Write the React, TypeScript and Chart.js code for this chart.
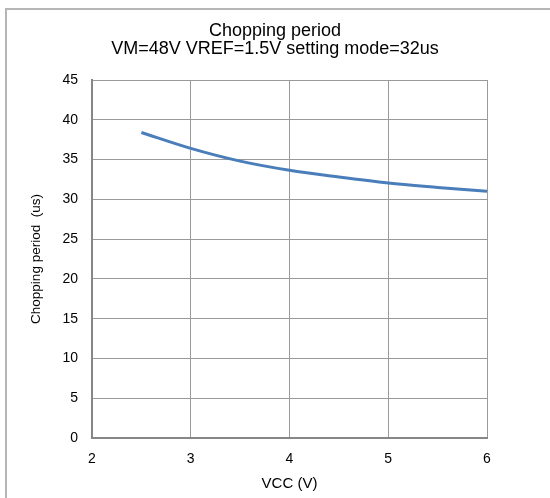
import React, { useEffect, useRef } from "react";
import { Chart, registerables } from "chart.js";

Chart.register(...registerables);

const titleLines = ["Chopping period", "VM=48V VREF=1.5V setting mode=32us"];
const xAxisTitle = "VCC (V)";
const yAxisTitle = "Chopping period  (us)";
const vcc = [2.5, 3, 3.5, 4, 4.5, 5, 5.5, 6];
const period = [38.4, 36.4, 34.8, 33.65, 32.8, 32.05, 31.5, 31.0];
const xMin = 2, xMax = 6, xStep = 1;
const yMin = 0, yMax = 45, yStep = 5;

const FONT = "'Liberation Sans', Arial, sans-serif";

export default function App() {
  const ref = useRef<HTMLCanvasElement | null>(null);
  useEffect(() => {
    if (!ref.current) return;
    const chart = new Chart(ref.current, {
      type: "line",
      data: {
        datasets: [
          {
            data: vcc.map((x, i) => ({ x, y: period[i] })),
            borderColor: "#4A7EBB",
            borderWidth: 3,
            pointRadius: 0,
            fill: false,
            cubicInterpolationMode: "monotone",
          },
        ],
      },
      options: {
        animation: false,
        responsive: false,
        maintainAspectRatio: false,
        layout: { padding: { left: 0, right: 0, top: 0, bottom: 0 } },
        plugins: {
          legend: { display: false },
          tooltip: { enabled: false },
          title: {
            display: true,
            text: titleLines,
            color: "#000",
            font: { family: FONT, size: 18, weight: "normal", lineHeight: 1.0 },
            padding: { top: 22, bottom: 22 },
          },
        },
        scales: {
          x: {
            type: "linear",
            min: xMin,
            max: xMax,
            afterFit: (s: any) => { s.height = 60; },
            ticks: { stepSize: xStep, color: "#000", font: { family: FONT, size: 14 }, padding: 13, maxRotation: 0 },
            grid: { color: "#9a9a9a", lineWidth: 1, drawTicks: false },
            border: { color: "#868686", width: 2 },
            title: { display: true, text: xAxisTitle, color: "#000", font: { family: FONT, size: 15 }, padding: { top: 0, bottom: 5 } },
          },
          y: {
            type: "linear",
            min: yMin,
            max: yMax,
            afterFit: (s: any) => { s.width = 92; },
            ticks: { stepSize: yStep, color: "#000", font: { family: FONT, size: 14 }, padding: 14 },
            grid: { color: "#9a9a9a", lineWidth: 1, drawTicks: false },
            border: { color: "#868686", width: 2 },
            title: { display: true, text: yAxisTitle, color: "#000", font: { family: FONT, size: 13.5 }, padding: { top: 28, bottom: 0 } },
          },
          yRight: {
            type: "linear",
            position: "right",
            min: yMin,
            max: yMax,
            afterFit: (s: any) => { s.width = 63; },
            ticks: { display: false },
            grid: { drawOnChartArea: false, drawTicks: false },
            border: { display: false },
          },
        },
      },
    } as any);
    return () => chart.destroy();
  }, []);
  return (
    <div style={{ position: "absolute", left: 0, top: 0, width: 550, height: 498, overflow: "hidden", background: "#fff" }}>
      <div style={{ position: "absolute", left: 5, top: 8, width: 600, height: 600, borderLeft: "2px solid #b5b5b5", borderTop: "2px solid #b5b5b5" }} />
      <canvas ref={ref} width={550} height={498} style={{ position: "absolute", left: 0, top: 0 }} />
    </div>
  );
}
